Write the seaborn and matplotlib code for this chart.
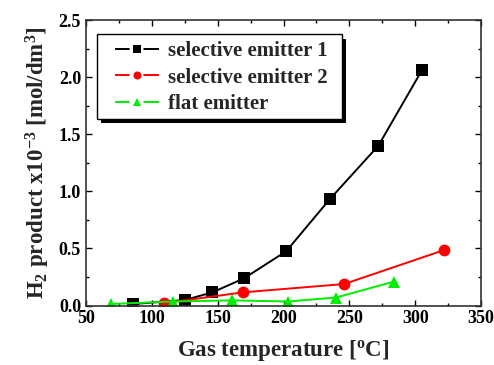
import pandas as pd
import matplotlib
matplotlib.use("Agg")
import matplotlib.pyplot as plt
import seaborn as sns
from matplotlib.ticker import MultipleLocator, FormatStrFormatter
from matplotlib.patches import Rectangle

# data
temp_se1 = [86, 125, 146, 170, 202, 235, 272, 305]
h2_se1 = [0.013, 0.048, 0.115, 0.238, 0.475, 0.93, 1.40, 2.06]

temp_se2 = [109, 169, 246, 322]
h2_se2 = [0.02, 0.115, 0.188, 0.486]

temp_flat = [69, 116, 161, 203, 240, 284]
h2_flat = [0.013, 0.035, 0.045, 0.035, 0.07, 0.21]

series_names = ["selective emitter 1", "selective emitter 2", "flat emitter"]

df = pd.concat([
    pd.DataFrame({"temp": temp_se1, "h2": h2_se1, "series": series_names[0]}),
    pd.DataFrame({"temp": temp_se2, "h2": h2_se2, "series": series_names[1]}),
    pd.DataFrame({"temp": temp_flat, "h2": h2_flat, "series": series_names[2]}),
])

sns.set_style("ticks")
plt.rcParams["font.family"] = ["Liberation Serif", "DejaVu Serif"]
plt.rcParams["font.weight"] = "bold"
plt.rcParams["mathtext.fontset"] = "custom"
plt.rcParams["mathtext.rm"] = "Liberation Serif:bold"
plt.rcParams["mathtext.bf"] = "Liberation Serif:bold"
plt.rcParams["mathtext.it"] = "Liberation Serif:bold"
plt.rcParams["mathtext.default"] = "bf"

fig = plt.figure(figsize=(4.94, 3.65), dpi=100)
ax = fig.add_axes([0.174, 0.163, 0.8, 0.782])

lw = 1.4
sns.lineplot(data=df, x="temp", y="h2", hue="series", style="series",
             markers=["s", "o", "^"], dashes=False, sort=False,
             palette=["black", "#ff0000", "#00ee00"], markersize=8.5,
             markeredgewidth=0, linewidth=lw, ax=ax)

ax.set_xlim(50, 350)
ax.set_ylim(0, 2.5)
ax.xaxis.set_major_locator(MultipleLocator(50))
ax.xaxis.set_minor_locator(MultipleLocator(25))
ax.yaxis.set_major_locator(MultipleLocator(0.5))
ax.yaxis.set_minor_locator(MultipleLocator(0.25))
ax.yaxis.set_major_formatter(FormatStrFormatter("%.1f"))
ax.tick_params(which="both", direction="in", top=True, right=True,
               labelsize=13, width=1, colors="black")
ax.tick_params(which="major", length=4)
ax.tick_params(which="minor", length=2)
for s in ax.spines.values():
    s.set_linewidth(1.2)
    s.set_color("#333333")

ax.set_xlabel("Gas temperature [$^{\\mathregular{o}}$C]", fontsize=16.5, fontweight="bold", labelpad=8)
ax.set_ylabel("H$_2$ product x10$^{-3}$ [mol/dm$^3$]", fontsize=16.5, fontweight="bold", labelpad=5)

# legend without frame, frame + shadow drawn by hand below
leg = ax.legend(loc="upper left", bbox_to_anchor=(0.073, 0.925), borderaxespad=0,
                frameon=False, fontsize=15, handlelength=2.1, handletextpad=0.45,
                markerscale=0.68, borderpad=0, labelspacing=0.3)
leg.set_zorder(10)
for t in leg.get_texts():
    t.set_fontweight("bold")
# gap in the legend line around the marker
for h in leg.legend_handles:
    h.set_linestyle((0, (10.5 / lw, 10 / lw, 12 / lw, 2 / lw)))

fig.canvas.draw()
bb = leg.get_window_extent().transformed(ax.transAxes.inverted())
px = 1 / (0.8 * 494)
py = 1 / (0.782 * 365)
x0, y0 = bb.x0 - 18 * px, bb.y0 - 5 * py
w, h = bb.width + 32 * px, bb.height + 12 * py
ax.add_patch(Rectangle((x0 + 4.5 * px, y0 - 4.5 * py), w, h, transform=ax.transAxes,
                       facecolor="black", edgecolor="none", zorder=9, clip_on=False))
ax.add_patch(Rectangle((x0, y0), w, h, transform=ax.transAxes, facecolor="white",
                       edgecolor="black", linewidth=1.0, zorder=9.5, clip_on=False))

fig.savefig("out.png", dpi=100)
